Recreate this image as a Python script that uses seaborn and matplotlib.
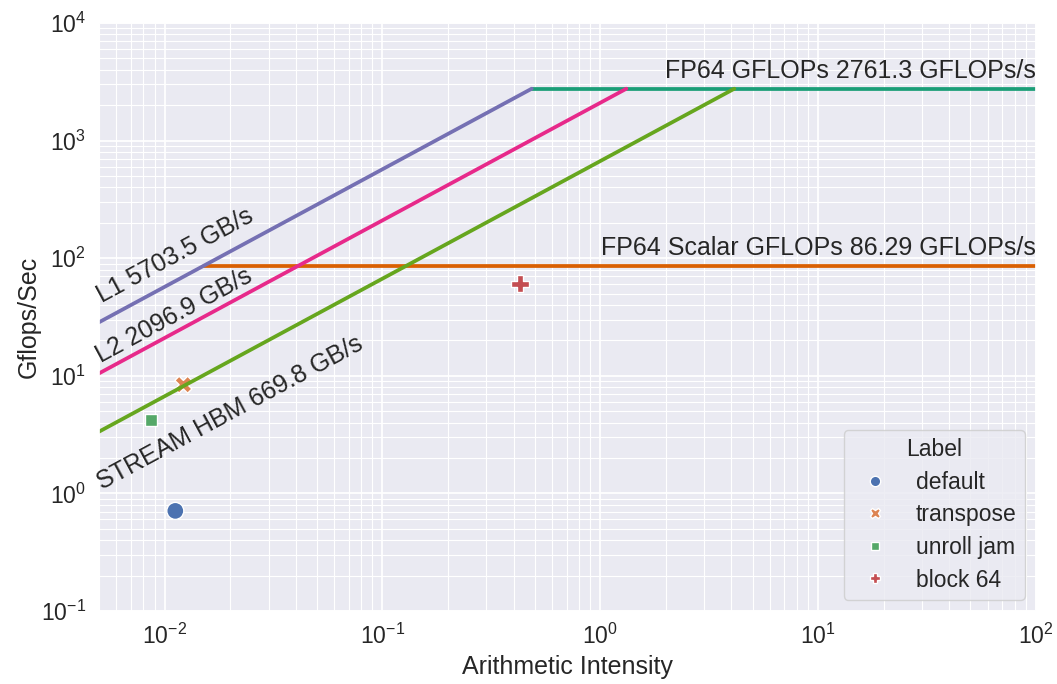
import numpy as np
import pandas as pd
import matplotlib
matplotlib.use("Agg")
import matplotlib.pyplot as plt
import seaborn as sns

# machine roofs
roof_names = ["FP64 GFLOPs", "FP64 Scalar GFLOPs", "L1", "L2", "STREAM HBM"]
roof_values = [2761.3, 86.29, 5703.5, 2096.9, 669.8]   # GFLOPs/s or GB/s
roof_kind = ["compute", "compute", "bandwidth", "bandwidth", "bandwidth"]

# measured kernels
labels = ["default", "transpose", "unroll jam", "block 64"]
intensity = [0.0112, 0.0122, 0.0087, 0.428]
gflops = [0.71, 8.4, 4.2, 60.5]

x_min, x_max = 0.005, 100
peak = roof_values[0]
l1_bw = roof_values[2]

sns.set_theme(style="darkgrid")
plt.rcParams["font.family"] = ["Liberation Sans", "DejaVu Sans"]
plt.rcParams["mathtext.fontset"] = "custom"
plt.rcParams["mathtext.rm"] = "Liberation Sans"
plt.rcParams["mathtext.it"] = "Liberation Sans:italic"
plt.rcParams["mathtext.bf"] = "Liberation Sans:bold"

# line segments for each roof
rows = []
for name, val, kind in zip(roof_names, roof_values, roof_kind):
    if kind == "bandwidth":
        xs = [x_min, peak / val]
        ys = [val * x for x in xs]
    else:
        # compute roofs start where they meet the L1 roof
        xs = [val / l1_bw, x_max]
        ys = [val, val]
    for x, y in zip(xs, ys):
        rows.append({"roof": name, "x": x, "y": y})
roofs = pd.DataFrame(rows)

points = pd.DataFrame({"Label": labels, "AI": intensity, "GFLOPs": gflops})

fig, ax = plt.subplots(figsize=(10.57, 6.84), dpi=100)
fig.subplots_adjust(left=99 / 1057, right=1036 / 1057, top=1 - 23 / 684, bottom=1 - 611 / 684)

ax.set_xscale("log")
ax.set_yscale("log")

sns.lineplot(data=roofs, x="x", y="y", hue="roof", palette="Dark2",
             estimator=None, sort=False, linewidth=2.7, legend=False, ax=ax)
sns.scatterplot(data=points, x="AI", y="GFLOPs", hue="Label", style="Label",
                s=150, palette="deep", ax=ax)

ax.set_xlim(x_min, x_max)
ax.set_ylim(0.1, 1e4)
ax.grid(True, which="major", color="white", linewidth=1.3)
ax.grid(True, which="minor", color="white", linewidth=0.8)
ax.tick_params(axis="both", which="major", labelsize=16.5, colors="#262626")
ax.set_xlabel("Arithmetic Intensity", fontsize=18)
ax.set_ylabel("Gflops/Sec", fontsize=18, labelpad=0)

# angle of a bandwidth roof on screen
p0 = ax.transData.transform((0.01, 1.0))
p1 = ax.transData.transform((0.1, 10.0))
angle = np.degrees(np.arctan2(p1[1] - p0[1], p1[0] - p0[0]))

bw_text_pos = {"L1": (0.00516, 42.0), "L2": (0.00508, 12.9), "STREAM HBM": (0.00516, 1.07)}
for name, val, kind in zip(roof_names, roof_values, roof_kind):
    if kind == "bandwidth":
        tx, ty = bw_text_pos[name]
        ax.text(tx, ty, f"{name} {val} GB/s", rotation=angle, rotation_mode="anchor",
                ha="left", va="baseline", fontsize=18, color="#262626")
    else:
        ax.text(x_max, val * 1.12, f"{name} {val} GFLOPs/s", ha="right", va="bottom",
                fontsize=18, color="#262626")

leg = ax.legend(loc="lower right", title="Label", fontsize=16.5, title_fontsize=16.5,
                labelspacing=0.42, borderpad=0.35)
for h in leg.legend_handles:
    h.set_markersize(7.5)

fig.savefig("out.png", dpi=100)
